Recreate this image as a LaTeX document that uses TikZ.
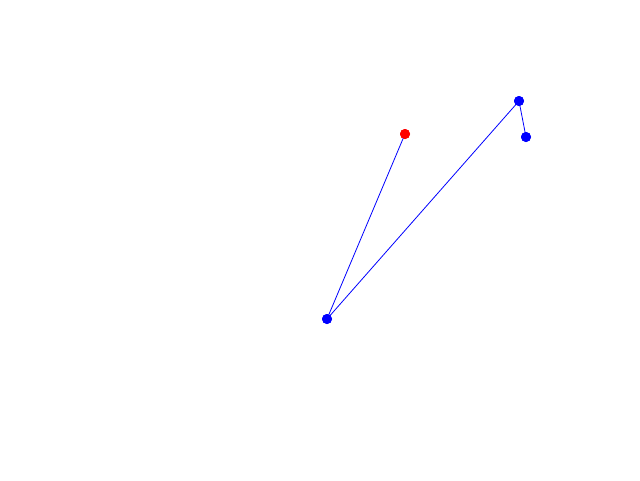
\documentclass[tikz,border=0pt]{standalone}
\begin{document}
\begin{tikzpicture}[x=1pt,y=-1pt,
  dotb/.style={circle,fill=blue,inner sep=0pt,minimum size=10pt},
  dotr/.style={circle,fill=red,inner sep=0pt,minimum size=10pt},
  link/.style={blue,line width=0.8pt}]
\useasboundingbox[fill=white] (0,0) rectangle (640,480);
\node[dotr] (r) at (405,134) {};
\node[dotb] (a) at (327,319) {};
\node[dotb] (b) at (519,101) {};
\node[dotb] (c) at (526,137) {};
\draw[link] (r.center) -- (a.center) -- (b.center) -- (c.center);
\node[dotr] at (r) {};
\node[dotb] at (a) {};
\node[dotb] at (b) {};
\node[dotb] at (c) {};
\end{tikzpicture}
\end{document}
